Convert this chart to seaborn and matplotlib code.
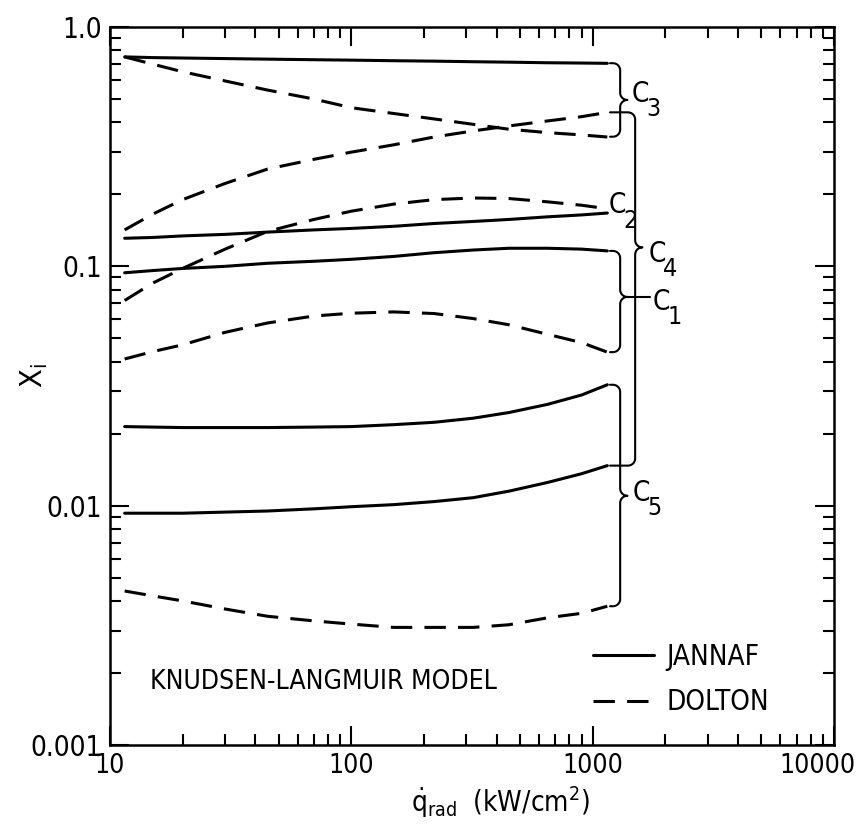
import numpy as np
import pandas as pd
import matplotlib
matplotlib.use('Agg')
import matplotlib.pyplot as plt
from matplotlib import font_manager
from matplotlib.transforms import ScaledTranslation
from matplotlib.ticker import FixedLocator, NullFormatter, LogLocator
import seaborn as sns

sns.set_style('ticks')

# look for a narrow / condensed sans, the scan uses one
family, stretch, FS = 'Liberation Sans', 'normal', 17
for f in font_manager.fontManager.ttflist:
    if f.name == 'Liberation Sans Narrow':
        family, stretch, FS = f.name, 'normal', 20
        break
else:
    for f in font_manager.fontManager.ttflist:
        if f.style == 'normal' and str(f.stretch) in ('condensed', 'semi-condensed', '75', '87.5') \
                and f.weight in (400, 'normal', 'regular'):
            family, stretch, FS = f.name, f.stretch, 20
            break

plt.rcParams['font.family'] = [family, 'DejaVu Sans']
plt.rcParams['font.stretch'] = stretch
plt.rcParams['mathtext.fontset'] = 'custom'
plt.rcParams['mathtext.rm'] = family
plt.rcParams['mathtext.it'] = family
for k in ['text.color', 'axes.labelcolor', 'xtick.color', 'ytick.color']:
    plt.rcParams[k] = 'black'

# heat flux (kW/cm2) where the curves were read
q_rad = [11.5, 15, 20, 30, 45, 70, 100, 150, 220, 320, 450, 650, 900, 1150]

# mole fractions, JANNAF (solid) and DOLTON (dashed)
c3_jannaf = [0.75, 0.745, 0.742, 0.738, 0.734, 0.73, 0.727, 0.723, 0.72, 0.716, 0.713, 0.709, 0.707, 0.705]
c3_dolton = [0.75, 0.70, 0.65, 0.595, 0.545, 0.50, 0.46, 0.435, 0.413, 0.392, 0.374, 0.362, 0.354, 0.347]
c4_dolton = [0.142, 0.165, 0.19, 0.222, 0.255, 0.28, 0.30, 0.322, 0.347, 0.368, 0.386, 0.405, 0.422, 0.44]
c2_dolton = [0.072, 0.085, 0.098, 0.118, 0.14, 0.157, 0.17, 0.182, 0.19, 0.193, 0.192, 0.186, 0.18, 0.174]
c2_jannaf = [0.131, 0.132, 0.134, 0.136, 0.139, 0.142, 0.144, 0.147, 0.151, 0.154, 0.157, 0.161, 0.164, 0.167]
c1_jannaf = [0.094, 0.096, 0.098, 0.100, 0.103, 0.105, 0.107, 0.110, 0.114, 0.117, 0.119, 0.119, 0.118, 0.116]
c1_dolton = [0.041, 0.044, 0.047, 0.053, 0.058, 0.062, 0.0637, 0.0645, 0.0635, 0.0605, 0.057, 0.052, 0.048, 0.0438]
c5_jannaf = [0.0214, 0.0213, 0.0212, 0.0212, 0.0212, 0.0213, 0.0214, 0.0218, 0.0223, 0.0232, 0.0245, 0.0265, 0.029, 0.032]
c4_jannaf = [0.0093, 0.0093, 0.0093, 0.0094, 0.0095, 0.0097, 0.0099, 0.0101, 0.0104, 0.0108, 0.0115, 0.0125, 0.0136, 0.0147]
c5_dolton = [0.0044, 0.0042, 0.0040, 0.0037, 0.00345, 0.0033, 0.0032, 0.0031, 0.0031, 0.0031, 0.00318, 0.0034, 0.00355, 0.0038]

x_ticks = [10, 100, 1000, 10000]
x_ticklabels = ['10', '100', '1000', '10000']
y_ticks = [0.001, 0.01, 0.1, 1.0]
y_ticklabels = ['0.001', '0.01', '0.1', '1.0']

curves = {
    ('C3', 'JANNAF'): c3_jannaf, ('C3', 'DOLTON'): c3_dolton,
    ('C4', 'DOLTON'): c4_dolton, ('C4', 'JANNAF'): c4_jannaf,
    ('C2', 'DOLTON'): c2_dolton, ('C2', 'JANNAF'): c2_jannaf,
    ('C1', 'JANNAF'): c1_jannaf, ('C1', 'DOLTON'): c1_dolton,
    ('C5', 'JANNAF'): c5_jannaf, ('C5', 'DOLTON'): c5_dolton,
}
rows = []
for (sp, model), vals in curves.items():
    for q, v in zip(q_rad, vals):
        rows.append({'q': q, 'x': v, 'curve': sp + model, 'model': model})
df = pd.DataFrame(rows)

fig = plt.figure(figsize=(8.61, 8.25), dpi=100)
ax = fig.add_axes([0.12776, 0.09697, 0.84088, 0.87030])

sns.lineplot(data=df, x='q', y='x', units='curve', style='model', estimator=None,
             style_order=['JANNAF', 'DOLTON'], dashes={'JANNAF': '', 'DOLTON': (7, 4)},
             color='black', lw=2.2, sort=False, ax=ax)

ax.set_xscale('log')
ax.set_yscale('log')
ax.set_xlim(10, 10000)
ax.set_ylim(0.001, 1.0)

ax.xaxis.set_major_locator(FixedLocator(x_ticks))
ax.set_xticklabels(x_ticklabels)
ax.yaxis.set_major_locator(FixedLocator(y_ticks))
ax.set_yticklabels(y_ticklabels)
ax.xaxis.set_minor_locator(LogLocator(base=10, subs=np.arange(2, 10)))
ax.yaxis.set_minor_locator(LogLocator(base=10, subs=np.arange(2, 10)))
ax.xaxis.set_minor_formatter(NullFormatter())
ax.yaxis.set_minor_formatter(NullFormatter())
ax.tick_params(which='both', direction='in', top=True, right=True, width=1.5,
               labelsize=FS, colors='black')
ax.tick_params(which='major', length=14, pad=6)
ax.tick_params(which='minor', length=8)
ax.tick_params(axis='x', labelsize=FS - 1)
for s in ax.spines.values():
    s.set_linewidth(1.8)
    s.set_color('black')

# last x label sits against the figure edge in the scan
last = ax.get_xticklabels()[-1]
last.set_transform(last.get_transform() + ScaledTranslation(-12 / 72, 0, fig.dpi_scale_trans))

ax.set_xlabel(r'$\dot{\mathrm{q}}_{\mathrm{rad}}$  (kW/cm$^{2}$)', fontsize=FS)
ax.xaxis.set_label_coords(0.54, -0.055)
ax.set_ylabel(r'X$_{\mathrm{i}}$', fontsize=FS + 2)
ax.yaxis.set_label_coords(-0.083, 0.515)

h, l = ax.get_legend_handles_labels()
leg = ax.legend(h, l, loc='upper left', bbox_to_anchor=(0.667, 0.142), frameon=False,
                fontsize=FS, handlelength=2.2, handletextpad=0.45, labelspacing=0.62,
                borderpad=0, borderaxespad=0)
for line in leg.get_lines():
    line.set_linewidth(2.2)
    line.set_color('black')

ax.text(0.055, 0.088, 'KNUDSEN-LANGMUIR MODEL', transform=ax.transAxes,
        fontsize=FS - 1, va='center', ha='left')


def brace(x_line, x_arm, y_top, y_bot, y_tip=None, r=0.03, lw=1.5):
    # curly brace drawn in log-log space (both axes ~240 px per decade)
    ul, ua = np.log10(x_line), np.log10(x_arm)
    vt, vb = np.log10(y_top), np.log10(y_bot)
    vm = (vt + vb) / 2 if y_tip is None else np.log10(y_tip)
    t = np.linspace(0, np.pi / 2, 12)
    us, vs = [ua], [vt]
    us += list(ul - r + r * np.cos(np.pi / 2 - t))
    vs += list(vt - r + r * np.sin(np.pi / 2 - t))
    us += list(ul + r + r * np.cos(np.pi + t))
    vs += list(vm + r + r * np.sin(np.pi + t))
    us += list(ul + r + r * np.cos(np.pi / 2 + t))
    vs += list(vm - r + r * np.sin(np.pi / 2 + t))
    us += list(ul - r + r * np.cos(-t))
    vs += list(vb + r + r * np.sin(-t))
    us.append(ua)
    vs.append(vb)
    ax.plot(10 ** np.array(us), 10 ** np.array(vs), color='black', lw=lw,
            solid_capstyle='round')


def clabel(x, y, num):
    ax.text(x, y, 'C', fontsize=FS, ha='left', va='center')
    ax.annotate(num, xy=(x, y), xytext=(10.5, -11), textcoords='offset points',
                fontsize=FS - 2, ha='left', va='center')


brace(1300, 1180, 0.706, 0.348, r=0.03)
brace(1500, 1180, 0.44, 0.0147, y_tip=0.12, r=0.03)
brace(1300, 1180, 0.116, 0.0438, y_tip=0.0745, r=0.03)
brace(1300, 1180, 0.032, 0.0038, y_tip=0.011, r=0.03)
ax.plot([1393, 1720], [0.0745, 0.0745], color='black', lw=1.5)

clabel(1456, 0.525, '3')
clabel(1165, 0.18, '2')
clabel(1700, 0.113, '4')
clabel(1780, 0.071, '1')
clabel(1469, 0.0113, '5')

fig.savefig('out.png', dpi=100, facecolor='white')
